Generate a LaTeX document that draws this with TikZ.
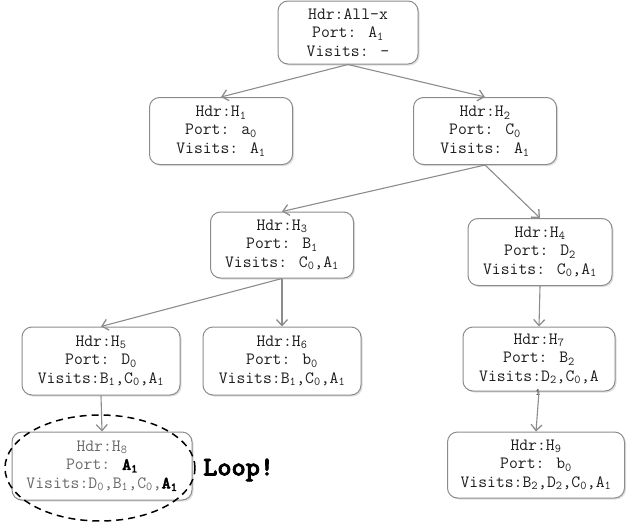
\documentclass[tikz,border=0pt]{standalone}
\usepackage{fontspec}
\newfontfamily\monobold[FakeBold=2.5]{lmmonolt10-bold.otf}
\usetikzlibrary{arrows.meta,shapes.geometric,shadows}
\newcommand\sbs[1]{\textsubscript{#1}}
\definecolor{edgegray}{RGB}{140,140,140}
\definecolor{txtdark}{RGB}{30,30,30}
\definecolor{txtlight}{RGB}{105,105,105}
\begin{document}
\begin{tikzpicture}[x=1pt,y=-1pt,
  hbox/.style={draw=edgegray, line width=1pt, rounded corners=10pt, fill=white,
    align=center, inner sep=0pt, text=txtdark,
    font=\ttfamily\fontsize{17.2}{18.5}\selectfont,
    drop shadow={shadow xshift=1.5pt, shadow yshift=-1.5pt, opacity=.25, fill=gray}},
  conn/.style={draw=edgegray, line width=1.1pt, -{Straight Barb[length=6pt,width=11pt,line width=1.3pt]}}]
\useasboundingbox (0,0) rectangle (629,525);
\node[hbox, minimum width=140pt, minimum height=63pt] (root) at (348,32.5) {Hdr:All-x\\Port: A\sbs{1}\\Visits: -};
\node[hbox, minimum width=143pt, minimum height=67pt] (h1) at (221,131) {Hdr:H\sbs{1}\\Port: a\sbs{0}\\Visits: A\sbs{1}};
\node[hbox, minimum width=143pt, minimum height=67pt] (h2) at (485,131) {Hdr:H\sbs{2}\\Port: C\sbs{0}\\Visits: A\sbs{1}};
\node[hbox, minimum width=143pt, minimum height=66pt] (h3) at (282,245) {Hdr:H\sbs{3}\\Port: B\sbs{1}\\Visits: C\sbs{0},A\sbs{1}};
\node[hbox, minimum width=144pt, minimum height=67pt] (h4) at (540,252) {Hdr:H\sbs{4}\\Port: D\sbs{2}\\Visits: C\sbs{0},A\sbs{1}};
\node[hbox, minimum width=158pt, minimum height=68pt] (h5) at (101,361) {Hdr:H\sbs{5}\\Port: D\sbs{0}\\Visits:B\sbs{1},C\sbs{0},A\sbs{1}};
\node[hbox, minimum width=158pt, minimum height=68pt] (h6) at (282,361) {Hdr:H\sbs{6}\\Port: b\sbs{0}\\Visits:B\sbs{1},C\sbs{0},A\sbs{1}};
\node[hbox, minimum width=152pt, minimum height=64pt] (h7) at (539,359) {Hdr:H\sbs{7}\\Port: B\sbs{2}\\Visits:D\sbs{2},C\sbs{0},A};
\node[text=txtdark, inner sep=0pt, font=\ttfamily\fontsize{10}{10}\selectfont] (h7sub) at (538,392) {1};
\node[hbox, minimum width=180pt, minimum height=68pt, text=txtlight] (h8) at (102,466) {Hdr:H\sbs{8}\\Port: \textcolor{black}{\monobold A\sbs{1}}\\Visits:D\sbs{0},B\sbs{1},C\sbs{0},\textcolor{black}{\monobold A\sbs{1}}};
\node[hbox, minimum width=177pt, minimum height=66pt] (h9) at (536,465) {Hdr:H\sbs{9}\\Port: b\sbs{0}\\Visits:B\sbs{2},D\sbs{2},C\sbs{0},A\sbs{1}};
\node[draw=black, ellipse, dash pattern=on 7pt off 5pt, line width=1.5pt, minimum width=190pt, minimum height=106pt, inner sep=0pt] (ring) at (100,468) {};
\node[font=\monobold\fontsize{27}{27}\selectfont, anchor=west, inner sep=0pt] (loop) at (203,470) {Loop!};
\draw[conn] (root.south) -- (h1.north);
\draw[conn] (root.south) -- (h2.north);
\draw[conn] (h2.south) -- (h3.north);
\draw[conn] (h2.south) -- (h4.north);
\draw[conn] (h3.south) -- (h5.north);
\draw[conn] (h3.south) -- (h6.north);
\draw[conn] (h4.south) -- (h7.north);
\draw[conn] (h5.south) -- (h8.north);
\draw[conn] (h7.south) -- (h9.north);
\end{tikzpicture}
\end{document}
